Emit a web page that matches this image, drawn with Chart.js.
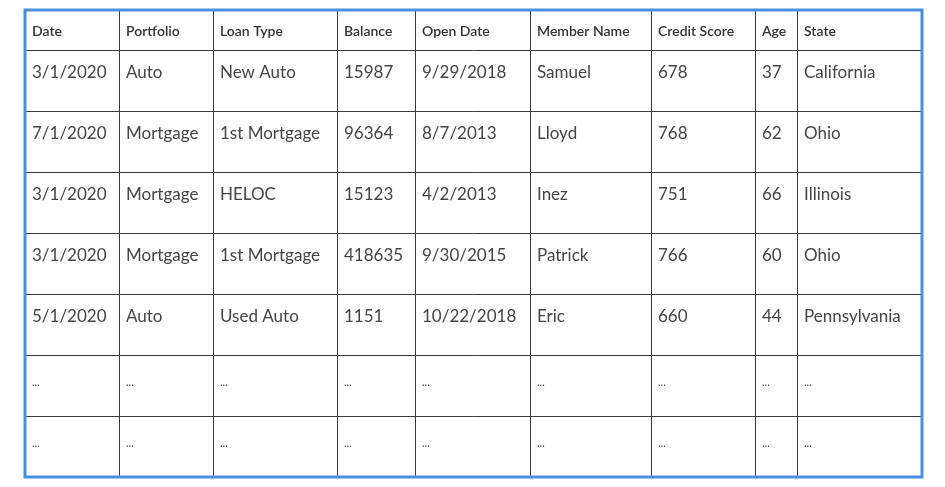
<!DOCTYPE html>
<html>
<head>
<meta charset="utf-8">
<script src="https://cdn.jsdelivr.net/npm/chart.js@4"></script>
<style>
  html, body { margin: 0; padding: 0; background: #fff; }
  #wrap { width: 945px; height: 487px; }
</style>
</head>
<body>
<div id="wrap"><canvas id="c"></canvas></div>
<script>
// table content
const headers = ['Date', 'Portfolio', 'Loan Type', 'Balance', 'Open Date', 'Member Name', 'Credit Score', 'Age', 'State'];
const dates = ['3/1/2020', '7/1/2020', '3/1/2020', '3/1/2020', '5/1/2020', '...', '...'];
const portfolios = ['Auto', 'Mortgage', 'Mortgage', 'Mortgage', 'Auto', '...', '...'];
const loanTypes = ['New Auto', '1st Mortgage', 'HELOC', '1st Mortgage', 'Used Auto', '...', '...'];
const balances = ['15987', '96364', '15123', '418635', '1151', '...', '...'];
const openDates = ['9/29/2018', '8/7/2013', '4/2/2013', '9/30/2015', '10/22/2018', '...', '...'];
const memberNames = ['Samuel', 'Lloyd', 'Inez', 'Patrick', 'Eric', '...', '...'];
const creditScores = ['678', '768', '751', '766', '660', '...', '...'];
const ages = ['37', '62', '66', '60', '44', '...', '...'];
const states = ['California', 'Ohio', 'Illinois', 'Ohio', 'Pennsylvania', '...', '...'];

const columns = [dates, portfolios, loanTypes, balances, openDates, memberNames, creditScores, ages, states];

// layout (scale units == pixels)
const colEdges = [25, 119, 213, 337, 415, 530, 651, 755, 797, 922];
const rowEdges = [10, 50, 111, 172, 233, 294, 355, 416, 477];

const tablePlugin = {
  id: 'table',
  afterDraw(chart) {
    const ctx = chart.ctx;
    const xs = chart.scales.x, ys = chart.scales.y;
    const px = v => xs.getPixelForValue(v);
    const py = v => ys.getPixelForValue(v);
    ctx.save();
    // inner grid
    ctx.strokeStyle = '#3a3a3a';
    ctx.lineWidth = 1;
    ctx.beginPath();
    colEdges.slice(1, -1).forEach(x => {
      ctx.moveTo(Math.round(px(x)) + 0.5, py(rowEdges[0]));
      ctx.lineTo(Math.round(px(x)) + 0.5, py(rowEdges[rowEdges.length - 1]));
    });
    rowEdges.slice(1, -1).forEach(y => {
      ctx.moveTo(px(colEdges[0]), Math.round(py(y)) + 0.5);
      ctx.lineTo(px(colEdges[colEdges.length - 1]), Math.round(py(y)) + 0.5);
    });
    ctx.stroke();
    // outer border
    ctx.strokeStyle = '#4a8fdb';
    ctx.lineWidth = 3;
    ctx.strokeRect(px(colEdges[0]), py(rowEdges[0]),
      px(colEdges[colEdges.length - 1]) - px(colEdges[0]),
      py(rowEdges[rowEdges.length - 1]) - py(rowEdges[0]));
    // header
    ctx.textBaseline = 'middle';
    ctx.textAlign = 'left';
    ctx.fillStyle = '#333';
    ctx.font = '600 14px Lato, "Open Sans", sans-serif';
    headers.forEach((h, i) => {
      ctx.fillText(h, px(colEdges[i]) + 7, (py(rowEdges[0]) + py(rowEdges[1])) / 2 + 1);
    });
    // body
    ctx.font = '17px Lato, "Open Sans", sans-serif';
    ctx.fillStyle = '#444';
    columns.forEach((col, c) => {
      col.forEach((v, r) => {
        const y = py(rowEdges[r + 1]) + 23;
        if (v === '...') {
          ctx.font = '11px Lato, sans-serif';
          ctx.fillText('...', px(colEdges[c]) + 7, y + 4);
          ctx.font = '17px Lato, "Open Sans", sans-serif';
        } else {
          ctx.fillText(v, px(colEdges[c]) + 7, y);
        }
      });
    });
    ctx.restore();
  }
};

new Chart(document.getElementById('c'), {
  type: 'scatter',
  data: { datasets: [{ data: [], pointRadius: 0 }] },
  options: {
    responsive: true,
    maintainAspectRatio: false,
    animation: false,
    layout: { padding: 0 },
    plugins: { legend: { display: false }, tooltip: { enabled: false } },
    scales: {
      x: { type: 'linear', min: 0, max: 945, display: false },
      y: { type: 'linear', min: 0, max: 487, reverse: true, display: false }
    }
  },
  plugins: [tablePlugin]
});
</script>
</body>
</html>
